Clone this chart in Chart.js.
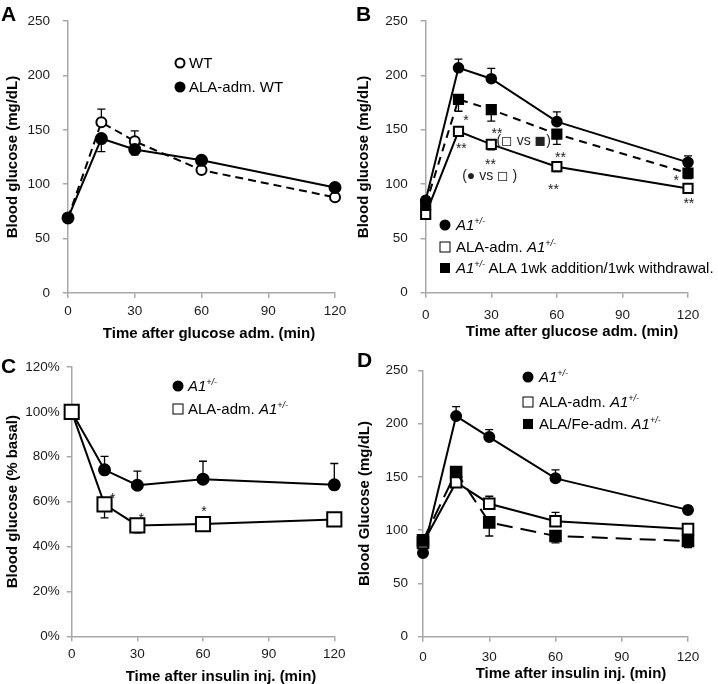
<!DOCTYPE html>
<html>
<head>
<meta charset="utf-8">
<script src="https://cdn.jsdelivr.net/npm/chart.js@4"></script>
<style>
  body { margin: 0; background: #fff; width: 718px; height: 684px; position: relative; overflow: hidden;
         font-family: 'Liberation Sans', Arial, sans-serif; color: #000; }
  canvas { position: absolute; }
  .letter { position: absolute; font-weight: bold; font-size: 21px; line-height: 20px; }
  .xt { position: absolute; font-weight: bold; font-size: 15px; white-space: nowrap; transform: translate(-50%, -50%); }
  .lt { position: absolute; font-size: 15px; line-height: 18px; white-space: nowrap; }
  .lt sup { font-size: 9px; vertical-align: 6px; line-height: 0; }
  .mk { position: absolute; transform: translate(-50%, -50%); box-sizing: border-box; }
  .fc { width: 11px; height: 11px; border-radius: 50%; background: #000; }
  .oc { width: 11px; height: 11px; border-radius: 50%; border: 2px solid #000; background: #fff; }
  .os { width: 11px; height: 11px; border: 1.5px solid #000; background: #fff; }
  .fs { width: 10px; height: 10px; background: #000; }
</style>
</head>
<body>
<canvas id="chartA" width="359" height="342" style="left:0;top:0"></canvas>
<canvas id="chartB" width="368" height="342" style="left:350px;top:0"></canvas>
<canvas id="chartC" width="359" height="342" style="left:0;top:342px"></canvas>
<canvas id="chartD" width="368" height="342" style="left:350px;top:342px"></canvas>

<div class="letter" style="left:1px;top:4px">A</div>
<div class="letter" style="left:356px;top:4px">B</div>
<div class="letter" style="left:1px;top:356px">C</div>
<div class="letter" style="left:357px;top:350px">D</div>

<div class="xt" style="left:209px;top:332px">Time after glucose adm. (min)</div>
<div class="xt" style="left:572px;top:330px">Time after glucose adm. (min)</div>
<div class="xt" style="left:221px;top:675px">Time after insulin inj. (min)</div>
<div class="xt" style="left:571px;top:672px">Time after insulin inj. (min)</div>

<!-- legend A -->
<div class="mk oc" style="left:180px;top:63px"></div><div class="lt" style="left:189px;top:54px">WT</div>
<div class="mk fc" style="left:180px;top:87px"></div><div class="lt" style="left:189px;top:78px">ALA-adm. WT</div>
<!-- legend B -->
<div class="mk fc" style="left:445px;top:225px"></div><div class="lt" style="left:456px;top:216px"><i>A1<sup>+/-</sup></i></div>
<div class="mk os" style="left:445px;top:247px"></div><div class="lt" style="left:456px;top:238px">ALA-adm. <i>A1<sup>+/-</sup></i></div>
<div class="mk fs" style="left:445px;top:268px"></div><div class="lt" style="left:456px;top:259px"><i>A1<sup>+/-</sup></i> ALA 1wk addition/1wk withdrawal.</div>
<!-- legend C -->
<div class="mk fc" style="left:178px;top:386px"></div><div class="lt" style="left:188px;top:377px"><i>A1<sup>+/-</sup></i></div>
<div class="mk os" style="left:178px;top:409px"></div><div class="lt" style="left:188px;top:400px">ALA-adm. <i>A1<sup>+/-</sup></i></div>
<!-- legend D -->
<div class="mk fc" style="left:528px;top:377px"></div><div class="lt" style="left:539px;top:368px"><i>A1<sup>+/-</sup></i></div>
<div class="mk os" style="left:528px;top:402px"></div><div class="lt" style="left:539px;top:393px">ALA-adm. <i>A1<sup>+/-</sup></i></div>
<div class="mk fs" style="left:528px;top:424px"></div><div class="lt" style="left:539px;top:415px">ALA/Fe-adm. <i>A1<sup>+/-</sup></i></div>

<script>
// time points (min)
const times = [0, 15, 30, 60, 120];

// A: glucose tolerance, WT
const aWT = [69, 157, 139.5, 113, 88];
const aWTerr = [0, 12, 9.5, 0, 0];
const aALA = [69, 142, 132, 122, 97];
const aALAerr = [0, 12, 5, 0, 0];

// B: glucose tolerance, A1+/-
const bA1 = [85, 207, 197, 157.5, 120];
const bA1err = [0, 8, 9.5, 9, 6];
const bALA = [72, 148.5, 136.5, 116, 96];
const bALAerr = [0, 0, 5, 4.5, 0];
const bWd = [81, 178, 168.5, 146, 110];
const bWdErr = [0, 11, 10.5, 9.5, 5];

// C: insulin tolerance (% basal)
const cA1 = [100, 74.2, 67.3, 70, 67.5];
const cA1err = [0, 6, 6.3, 8, 9.5];
const cALA = [100, 58.8, 49.4, 50, 52.1];
const cALAerr = [0, 6, 3.3, 0, 0];

// D: insulin tolerance, with Fe
const dA1 = [78.5, 207, 187.3, 148.6, 119];
const dA1err = [0, 9, 7, 8, 3.5];
const dALA = [88, 145, 124.8, 108.3, 101];
const dALAerr = [0, 0, 7, 8.4, 3];
const dFe = [90.4, 154.5, 107.3, 94.5, 89.8];
const dFeErr = [0, 0, 12.8, 6.5, 6.3];

// significance marks [text, x(min), y(value)]
const notesB = [
  ['*', 18.4, 162], ['**', 32.6, 149.6], ['**', 16.3, 136], ['**', 29.6, 121],
  ['(\u25FB vs \u25FC)', 44.8, 139.8], ['**', 61.7, 127.8], ['(\u25CF vs \u25FB )', 29.3, 107],
  ['**', 58.5, 98], ['*', 114.6, 106.5], ['**', 120.4, 85],
];
const notesC = [['*', 18.7, 62.8], ['*', 31.8, 53.9], ['*', 60.5, 57.3]];

const axisColor = '#a8a8a8';
const tickColor = '#1a1a1a';
Chart.defaults.font.family = "'Liberation Sans', Arial, sans-serif";

const pts = (vals) => vals.map((v, i) => ({ x: times[i], y: v }));

const series = (vals, err, dir, opts) => Object.assign({
  data: pts(vals),
  err: err,
  errDir: dir,
  borderColor: '#000',
  borderWidth: 2,
  pointBorderColor: '#000',
  pointBorderWidth: 2,
  tension: 0,
  clip: false,
}, opts);

// error bars (under the markers) and significance marks
const extras = (notes) => ({
  id: 'extras',
  beforeDatasetsDraw(chart) {
    const { ctx, scales: { x, y } } = chart;
    ctx.save();
    ctx.strokeStyle = '#000';
    ctx.lineWidth = 1.3;
    chart.data.datasets.forEach((ds) => {
      ds.data.forEach((p, i) => {
        const e = ds.err[i];
        if (!e) return;
        const px = x.getPixelForValue(p.x);
        const p0 = y.getPixelForValue(p.y);
        const p1 = y.getPixelForValue(p.y + ds.errDir * e);
        ctx.beginPath();
        ctx.moveTo(px, p0);
        ctx.lineTo(px, p1);
        ctx.moveTo(px - 4, p1);
        ctx.lineTo(px + 4, p1);
        ctx.stroke();
      });
    });
    ctx.restore();
  },
  afterDatasetsDraw(chart) {
    if (!notes) return;
    const { ctx, scales: { x, y } } = chart;
    ctx.save();
    ctx.fillStyle = '#222';
    ctx.textAlign = 'center';
    notes.forEach(([t, nx, ny]) => {
      const px = x.getPixelForValue(nx);
      const py = y.getPixelForValue(ny);
      if (t.startsWith('*')) {
        ctx.font = "14px 'Liberation Sans', Arial";
        ctx.textBaseline = 'alphabetic';
        ctx.fillText(t, px, py + 8);
      } else {
        ctx.font = "14px 'Liberation Sans', 'DejaVu Sans'";
        ctx.textBaseline = 'middle';
        ctx.fillText(t, px, py);
      }
    });
    ctx.restore();
  },
});

const makeChart = (id, cfg) => new Chart(id, {
  type: 'line',
  data: { datasets: cfg.datasets },
  options: {
    responsive: false,
    animation: false,
    layout: { padding: { top: cfg.top, right: cfg.right, left: 0, bottom: 0 } },
    plugins: { legend: { display: false }, tooltip: { enabled: false } },
    scales: {
      x: {
        type: 'linear', min: 0, max: 120,
        ticks: { stepSize: 30, padding: cfg.xPad, color: tickColor, font: { size: 13.5 }, maxRotation: 0 },
        grid: { drawOnChartArea: false, tickLength: 5, color: axisColor, lineWidth: 1.5 },
        border: { color: axisColor, width: 1.5 },
        afterFit: (s) => { s.height = cfg.xH; },
      },
      y: {
        min: 0, max: cfg.ymax,
        ticks: { stepSize: cfg.ystep, padding: cfg.yPad, color: tickColor, font: { size: 13.5 },
                 callback: cfg.fmt || ((v) => v) },
        grid: { drawOnChartArea: false, tickLength: 5, color: axisColor, lineWidth: 1.5 },
        border: { color: axisColor, width: 1.5 },
        title: { display: true, text: cfg.yTitle, color: '#000', font: { size: 15, weight: 'bold' },
                 padding: { top: cfg.yTitlePad, bottom: 0 } },
        afterFit: (s) => { s.width = cfg.yW; },
      },
    },
  },
  plugins: [extras(cfg.notes)],
});

makeChart('chartA', {
  top: 17, right: 24, xH: 49, yW: 68, xPad: 5.6, yPad: 13, yTitlePad: 4.3,
  ymax: 250, ystep: 50, yTitle: 'Blood glucose (mg/dL)',
  datasets: [
    series(aALA, aALAerr, -1, { pointStyle: 'circle', pointRadius: 5.5, pointBackgroundColor: '#000' }),
    series(aWT, aWTerr, 1, { pointStyle: 'circle', pointRadius: 5, pointBackgroundColor: '#fff', borderDash: [8, 5] }),
  ],
});

makeChart('chartB', {
  top: 14, right: 30, xH: 49.3, yW: 75.7, xPad: 9.2, yPad: 13, yTitlePad: 5,
  ymax: 250, ystep: 50, yTitle: 'Blood glucose (mg/dL)', notes: notesB,
  datasets: [
    series(bA1, bA1err, 1, { pointStyle: 'circle', pointRadius: 4.8, pointBackgroundColor: '#000' }),
    series(bWd, bWdErr, -1, { pointStyle: 'rect', pointRadius: 6.5, pointBackgroundColor: '#000', borderDash: [8, 6] }),
    series(bALA, bALAerr, -1, { pointStyle: 'rect', pointRadius: 6.5, pointBackgroundColor: '#fff' }),
  ],
});

makeChart('chartC', {
  top: 25, right: 24.7, xH: 47.7, yW: 71.7, xPad: 4.9, yPad: 7, yTitlePad: 4.3,
  ymax: 120, ystep: 20, yTitle: 'Blood glucose (% basal)', notes: notesC, fmt: (v) => v + '%',
  datasets: [
    series(cALA, cALAerr, -1, { pointStyle: 'rect', pointRadius: 10, pointBackgroundColor: '#fff' }),
    series(cA1, cA1err, 1, { pointStyle: 'circle', pointRadius: 5.5, pointBackgroundColor: '#000' }),
  ],
});

makeChart('chartD', {
  top: 28.3, right: 30, xH: 47.3, yW: 73, xPad: 7.2, yPad: 10, yTitlePad: 5.7,
  ymax: 250, ystep: 50, yTitle: 'Blood Glucose (mg/dL)',
  datasets: [
    series(dFe, dFeErr, -1, { pointStyle: 'rect', pointRadius: 7.5, pointBackgroundColor: '#000', borderDash: [16, 8] }),
    series(dALA, dALAerr, 1, { pointStyle: 'rect', pointRadius: 7.5, pointBackgroundColor: '#fff' }),
    series(dA1, dA1err, 1, { pointStyle: 'circle', pointRadius: 5, pointBackgroundColor: '#000' }),
  ],
});
</script>
</body>
</html>
